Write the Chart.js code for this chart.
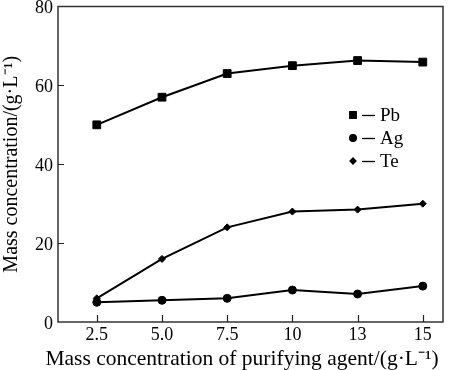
<!DOCTYPE html>
<html>
<head>
<meta charset="utf-8">
<script src="https://cdn.jsdelivr.net/npm/chart.js@4/dist/chart.umd.min.js"></script>
<style>
html,body{margin:0;padding:0;background:#fff;}
#wrap{width:450px;height:370px;}
</style>
</head>
<body>
<div id="wrap"><canvas id="c" width="450" height="370"></canvas></div>
<script>
const categories = ['2.5', '5.0', '7.5', '10', '13', '15'];
const pbValues = [50, 57, 63, 65, 66.3, 65.9];
const agValues = [5.0, 5.5, 6.0, 8.1, 7.1, 9.1];
const teValues = [6.0, 16.0, 24.0, 28.0, 28.5, 30.0];
const yTicks = [0, 20, 40, 60, 80];
const seriesNames = ['Pb', 'Ag', 'Te'];
const xTitle = 'Mass concentration of purifying agent/(g·L⁻¹)';
const yTitle = 'Mass concentration/(g·L⁻¹)';

const FONT = '"Liberation Serif", "Times New Roman", serif';

function pts(vals){ return vals.map((v,i)=>({x:i, y:v})); }

const frameAndTicks = {
  id: 'frameAndTicks',
  afterDraw(chart){
    const {ctx, chartArea:a, scales} = chart;
    ctx.save();
    ctx.strokeStyle = '#333';
    ctx.lineWidth = 1.5;
    ctx.strokeRect(a.left, a.top, a.right - a.left, a.bottom - a.top);
    ctx.lineWidth = 1.2;
    ctx.strokeStyle = '#222';
    ctx.beginPath();
    scales.x.ticks.forEach(t=>{
      const px = Math.round(scales.x.getPixelForValue(t.value)) + 0.5;
      ctx.moveTo(px, a.bottom); ctx.lineTo(px, a.bottom - 7);
    });
    scales.y.ticks.forEach(t=>{
      const py = Math.round(scales.y.getPixelForValue(t.value)) + 0.5;
      if (t.value === 0 || t.value === 80) return;
      ctx.moveTo(a.left, py); ctx.lineTo(a.left + 6, py);
    });
    ctx.stroke();
    // x-axis title
    ctx.fillStyle = '#000';
    ctx.font = '21.5px ' + FONT;
    ctx.textAlign = 'center';
    ctx.textBaseline = 'middle';
    ctx.fillText(xTitle, 242, 359);
    // legend
    const lx = 353, ly0 = 115, dy = 23;
    chart.data.datasets.forEach((ds, i)=>{
      const y = ly0 + i*dy;
      ctx.fillStyle = '#000';
      ctx.strokeStyle = '#000';
      Chart.helpers.drawPoint(ctx, {pointStyle: ds.pointStyle, radius: ds.pointRadius * 0.85, borderWidth: 1}, lx, y);
      ctx.lineWidth = 1.3;
      ctx.beginPath();
      ctx.moveTo(362, y + 0.5); ctx.lineTo(375, y + 0.5);
      ctx.stroke();
      ctx.font = '19px ' + FONT;
      ctx.textBaseline = 'middle';
      ctx.textAlign = 'left';
      ctx.fillText(ds.label, 380, y + 1);
    });
    ctx.restore();
  }
};

new Chart(document.getElementById('c'), {
  type: 'line',
  data: {
    datasets: [
      {label: seriesNames[0], data: pts(pbValues), pointStyle: 'rect', pointRadius: 5.5},
      {label: seriesNames[1], data: pts(agValues), pointStyle: 'circle', pointRadius: 4},
      {label: seriesNames[2], data: pts(teValues), pointStyle: 'rectRot', pointRadius: 3.5}
    ].map(d=>Object.assign(d, {
      borderColor: '#000', backgroundColor: '#000', pointBackgroundColor: '#000',
      pointBorderColor: '#000', borderWidth: 2, pointBorderWidth: 1, tension: 0, fill: false
    }))
  },
  options: {
    responsive: false,
    animation: false,
    events: [],
    layout: {padding: {top: 5, right: 7, left: 0, bottom: 0}},
    plugins: {legend: {display: false}, tooltip: {enabled: false}},
    scales: {
      x: {
        type: 'linear',
        min: -0.595, max: 5.31,
        afterBuildTicks(s){ s.ticks = categories.map((_, i)=>({value: i})); },
        afterFit(s){ s.height = 48; s.paddingLeft = 0; s.paddingRight = 0; },
        grid: {display: false, drawTicks: false},
        border: {display: false},
        ticks: {
          callback: (v)=>categories[v] ?? '',
          font: {family: FONT, size: 18}, color: '#000', padding: 2, maxRotation: 0, autoSkip: false
        },
        title: {display: false}
      },
      y: {
        min: 0, max: 80,
        afterBuildTicks(s){ s.ticks = yTicks.map(v=>({value: v})); },
        afterFit(s){ s.width = 58; s.paddingTop = 0; s.paddingBottom = 0; },
        grid: {display: false, drawTicks: false},
        border: {display: false},
        ticks: {font: {family: FONT, size: 18}, color: '#000', padding: 5, labelOffset: 2},
        title: {
          display: true, text: yTitle,
          font: {family: FONT, size: 20}, color: '#000', padding: {top: 0, bottom: 0}
        }
      }
    }
  },
  plugins: [frameAndTicks]
});
</script>
</body>
</html>
